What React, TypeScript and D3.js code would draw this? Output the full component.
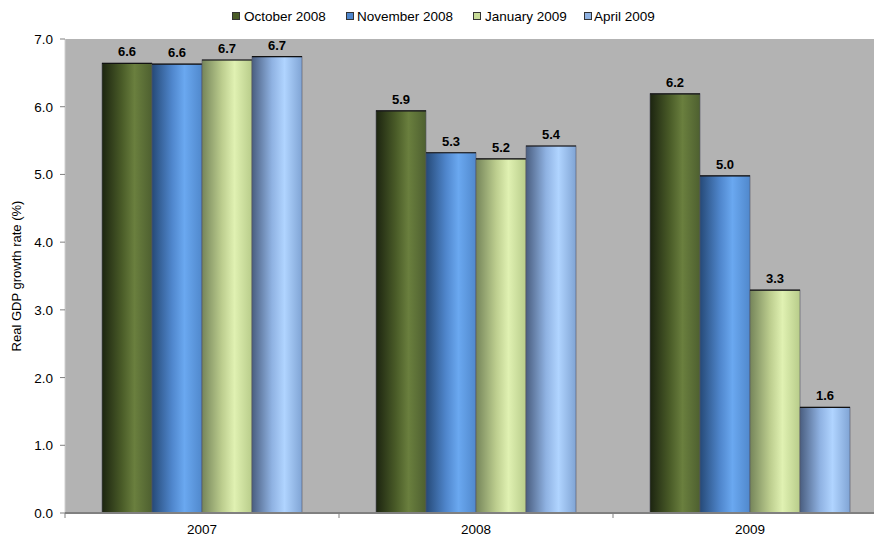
import React from "react";
import * as d3 from "d3";

const categories = ["2007", "2008", "2009"];
const seriesNames = ["October 2008", "November 2008", "January 2009", "April 2009"];
const oct2008 = [6.64, 5.94, 6.19];
const nov2008 = [6.63, 5.32, 4.98];
const jan2009 = [6.69, 5.23, 3.29];
const apr2009 = [6.74, 5.42, 1.56];
const labels = [
  ["6.6", "5.9", "6.2"],
  ["6.6", "5.3", "5.0"],
  ["6.7", "5.2", "3.3"],
  ["6.7", "5.4", "1.6"],
];
const yTicks = [0, 1, 2, 3, 4, 5, 6, 7];

const seriesValues = [oct2008, nov2008, jan2009, apr2009];
const gradients = [
  { stops: ["#1c2410", "#4a5c28", "#6a7f3e", "#4e6030"], legend: "#4a5c28" },
  { stops: ["#264a78", "#4f86cc", "#6aa8f0", "#5088cc"], legend: "#4f86cc" },
  { stops: ["#75855a", "#bccd8e", "#e0f1b2", "#b8cc8a"], legend: "#c8dc98" },
  { stops: ["#4a5e80", "#8fb2e2", "#b0d4ff", "#80a4d4"], legend: "#8fb2e2" },
];

const W = 874;
const H = 537;
const left = 65;
const top = 39;
const bottom = 513;
const catW = 274;

export default function App() {
  const x = d3.scaleBand<string>().domain(categories).range([left, left + catW * 3]).paddingInner(0).paddingOuter(0);
  const y = d3.scaleLinear().domain([0, 7]).range([bottom, top]);
  const groupW = 200;
  const xs = d3.scaleBand<string>().domain(seriesNames).range([0, groupW]).padding(0);
  const font = "'Liberation Sans', Arial, sans-serif";
  const legendSq = [236, 350, 477, 588];
  const legendTx = [244, 357, 485, 594];

  return (
    <svg width={W} height={H} style={{ position: "absolute", left: 0, top: 0, display: "block" }} fontFamily={font}>
      <defs>
        {gradients.map((g, i) => (
          <linearGradient key={i} id={`g${i}`} x1="0" x2="1" y1="0" y2="0">
            <stop offset="0%" stopColor={g.stops[0]} />
            <stop offset="40%" stopColor={g.stops[1]} />
            <stop offset="65%" stopColor={g.stops[2]} />
            <stop offset="100%" stopColor={g.stops[3]} />
          </linearGradient>
        ))}
      </defs>
      <rect x={0} y={0} width={W} height={H} fill="#ffffff" />
      <rect x={left} y={top} width={W - left} height={bottom - top} fill="#b3b3b3" />
      {/* legend */}
      {seriesNames.map((s, i) => (
        <g key={s}>
          <rect x={legendSq[i] - 3.5} y={12.5} width={7} height={7} fill={gradients[i].legend} stroke="#333" strokeWidth={1} />
          <text x={legendTx[i]} y={21} fontSize={13.5} fill="#000">{s}</text>
        </g>
      ))}
      {/* bars */}
      {categories.map((c, ci) => {
        const gx = (x(c) as number) + (catW - groupW) / 2;
        return seriesNames.map((s, si) => {
          const v = seriesValues[si][ci];
          const bx = gx + (xs(s) as number);
          const bw = xs.bandwidth();
          return (
            <g key={c + s}>
              <rect x={bx} y={y(v)} width={bw} height={bottom - y(v)} fill={`url(#g${si})`} stroke="#556" strokeOpacity={0.6} strokeWidth={1} />
              <line x1={bx} x2={bx + bw} y1={y(v)} y2={y(v)} stroke="#111" strokeWidth={1.2} />
              <text x={bx + bw / 2} y={y(v) - 7} textAnchor="middle" fontSize={13} fontWeight="bold" fill="#000">{labels[si][ci]}</text>
            </g>
          );
        });
      })}
      {/* y axis */}
      <line x1={left} x2={left} y1={top} y2={bottom} stroke="#d0d0d0" strokeWidth={1} />
      {yTicks.map((t) => (
        <g key={t}>
          <line x1={left - 5} x2={left} y1={y(t)} y2={y(t)} stroke="#808080" strokeWidth={1} />
          <text x={53} y={y(t) + 5} textAnchor="end" fontSize={13.5} fill="#000">{t.toFixed(1)}</text>
        </g>
      ))}
      {/* x axis */}
      <line x1={left} x2={W} y1={bottom} y2={bottom} stroke="#808080" strokeWidth={2} />
      {[0, 1, 2].map((i) => (
        <line key={i} x1={left + catW * i} x2={left + catW * i} y1={bottom} y2={bottom + 5} stroke="#808080" strokeWidth={1} />
      ))}
      {categories.map((c) => (
        <text key={c} x={(x(c) as number) + catW / 2} y={533.5} textAnchor="middle" fontSize={13.5} fill="#000">{c}</text>
      ))}
      <text transform={`translate(21, ${(top + bottom) / 2}) rotate(-90)`} textAnchor="middle" fontSize={13} fill="#000">Real GDP growth rate (%)</text>
    </svg>
  );
}
